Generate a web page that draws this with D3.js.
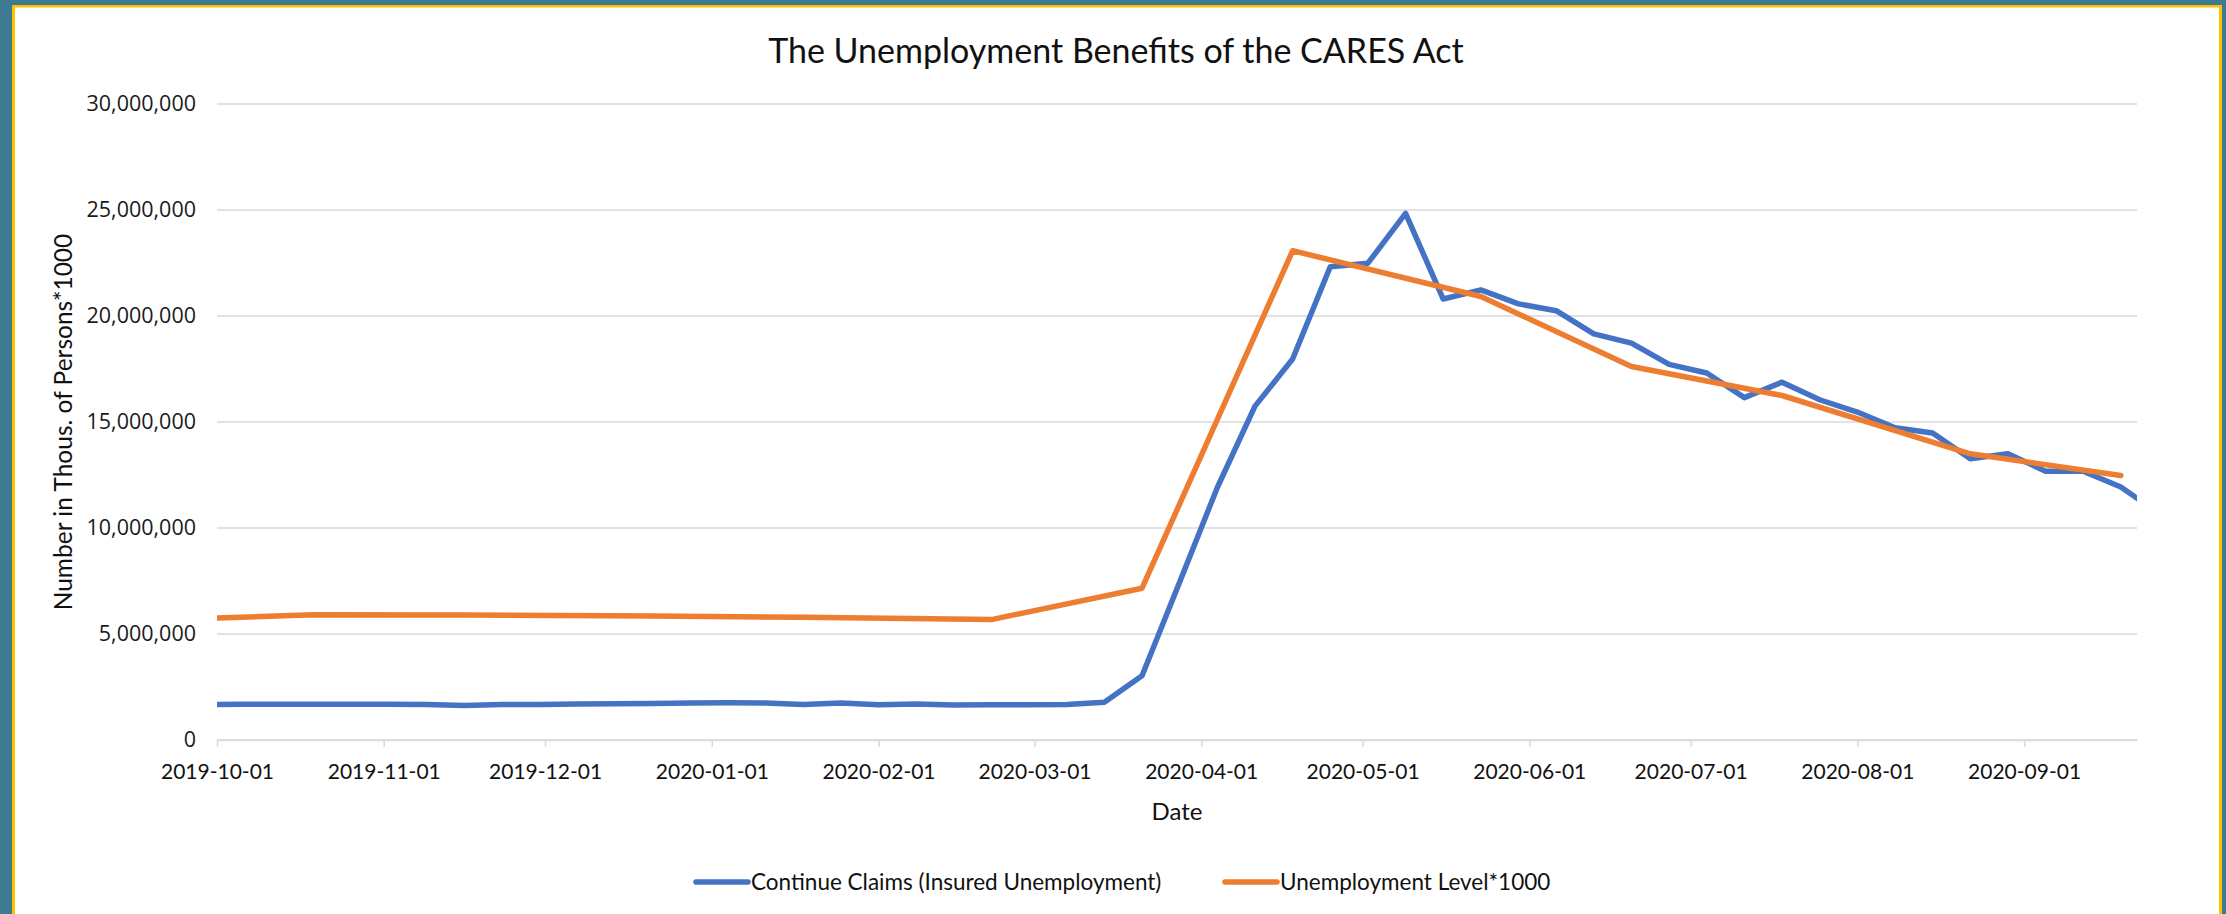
<!DOCTYPE html>
<html>
<head>
<meta charset="utf-8">
<script src="https://cdn.jsdelivr.net/npm/d3@7"></script>
<style>
  body { margin: 0; background: #3d7b93; }
  svg { display: block; }
</style>
</head>
<body>
<script>
// weekly continued claims (week ending Saturday)
var claimDates = [
  "2019-10-01", "2019-10-05", "2019-10-12", "2019-10-19", "2019-10-26",
  "2019-11-02", "2019-11-09", "2019-11-16", "2019-11-23", "2019-11-30",
  "2019-12-07", "2019-12-14", "2019-12-21", "2019-12-28",
  "2020-01-04", "2020-01-11", "2020-01-18", "2020-01-25",
  "2020-02-01", "2020-02-08", "2020-02-15", "2020-02-22", "2020-02-29",
  "2020-03-07", "2020-03-14", "2020-03-21", "2020-03-28",
  "2020-04-04", "2020-04-11", "2020-04-18", "2020-04-25",
  "2020-05-02", "2020-05-09", "2020-05-16", "2020-05-23", "2020-05-30",
  "2020-06-06", "2020-06-13", "2020-06-20", "2020-06-27",
  "2020-07-04", "2020-07-11", "2020-07-18", "2020-07-25",
  "2020-08-01", "2020-08-08", "2020-08-15", "2020-08-22", "2020-08-29",
  "2020-09-05", "2020-09-12", "2020-09-19", "2020-09-26"
]
var claimValues = [
  1680000, 1684000, 1682000, 1688000, 1689000,
  1690000, 1680000, 1630000, 1678000, 1680000,
  1700000, 1712000, 1725000, 1750000,
  1752000, 1745000, 1680000, 1740000,
  1660000, 1700000, 1650000, 1665000, 1665000,
  1670000, 1780000, 3030000, 7450000,
  11910000, 15750000, 17970000, 22320000,
  22490000, 24840000, 20800000, 21230000, 20570000,
  20250000, 19160000, 18720000, 17720000,
  17310000, 16150000, 16880000, 16050000,
  15470000, 14730000, 14480000, 13270000, 13500000,
  12680000, 12680000, 11930000, 10700000
]

// monthly unemployment level (thousands) scaled by 1000
var levelDates = [
  "2019-10-01", "2019-10-19", "2019-11-16", "2019-12-21", "2020-01-18",
  "2020-02-22", "2020-03-21", "2020-04-18", "2020-05-23", "2020-06-20",
  "2020-07-18", "2020-08-22", "2020-09-19"
]
var levelValues = [
  5750000, 5910000, 5900000, 5850000, 5790000,
  5680000, 7160000, 23080000, 20920000, 17620000,
  16250000, 13500000, 12480000
]

var monthTicks = [
  "2019-10-01", "2019-11-01", "2019-12-01", "2020-01-01", "2020-02-01", "2020-03-01",
  "2020-04-01", "2020-05-01", "2020-06-01", "2020-07-01", "2020-08-01", "2020-09-01"
]
var yTicks = [0, 5000000, 10000000, 15000000, 20000000, 25000000, 30000000]

var seriesNames = ["Continue Claims (Insured Unemployment)", "Unemployment Level*1000"]
var seriesColors = ["#4472c4", "#ed7d31"]

var width = 2226
var height = 914
var margin = { top: 104, bottom: 174, left: 217, right: 89 }

var parseDate = d3.utcParse("%Y-%m-%d")
var fmtDate = d3.utcFormat("%Y-%m-%d")

var claims = claimDates.map(function(d, i) { return { date: parseDate(d), value: claimValues[i] } })
var level = levelDates.map(function(d, i) { return { date: parseDate(d), value: levelValues[i] } })

var escalaX = d3.scaleUtc()
  .domain([parseDate("2019-10-01"), parseDate("2020-09-22")])
  .range([margin.left, width - margin.right])

var escalaY = d3.scaleLinear()
  .domain([0, 30000000])
  .range([height - margin.bottom, margin.top])

var svg = d3.select("body")
  .append("svg")
  .attr("width", width)
  .attr("height", height)

// frame: teal backdrop, thin gold border, white chart area
svg.append("rect")
  .attr("width", width).attr("height", height)
  .attr("fill", "#3d7b93")
svg.append("rect")
  .attr("x", 12).attr("y", 5)
  .attr("width", 2210).attr("height", height)
  .attr("fill", "#ffc000")
svg.append("rect")
  .attr("x", 15).attr("y", 7.5)
  .attr("width", 2204).attr("height", height)
  .attr("fill", "#ffffff")

// horizontal gridlines
svg.append("g")
  .selectAll("line")
  .data(yTicks)
  .enter()
  .append("line")
    .attr("x1", margin.left)
    .attr("x2", width - margin.right)
    .attr("y1", d => escalaY(d))
    .attr("y2", d => escalaY(d))
    .attr("stroke", "#d9d9d9")
    .attr("stroke-width", 1.5)

// y axis labels
var ejeY = d3.axisLeft(escalaY)
  .tickValues(yTicks)
  .tickFormat(d3.format(","))
  .tickSize(0)
  .tickPadding(21)
svg.append("g")
  .attr("transform", "translate(" + margin.left + ",0)")
  .call(ejeY)
  .call(g => g.select(".domain").remove())
  .selectAll("text")
    .attr("font-family", "'Open Sans', sans-serif")
    .attr("font-size", 21.5)
    .attr("fill", "#1a1a1a")

// x axis
var ejeX = d3.axisBottom(escalaX)
  .tickValues(monthTicks.map(parseDate))
  .tickFormat(fmtDate)
  .tickSizeInner(7)
  .tickSizeOuter(0)
  .tickPadding(17)
var gx = svg.append("g")
  .attr("transform", "translate(0," + escalaY(0) + ")")
  .call(ejeX)
gx.select(".domain").attr("stroke", "#d9d9d9").attr("stroke-width", 1.5)
gx.selectAll(".tick line").attr("stroke", "#d9d9d9").attr("stroke-width", 1.5)
gx.selectAll("text")
  .attr("font-family", "Lato, sans-serif")
  .attr("font-size", 21)
  .attr("fill", "#111")

// lines, clipped to the plot area
svg.append("clipPath")
  .attr("id", "plotClip")
  .append("rect")
    .attr("x", margin.left)
    .attr("y", 0)
    .attr("width", width - margin.left - margin.right)
    .attr("height", height)

var linea = d3.line()
  .x(d => escalaX(d.date))
  .y(d => escalaY(d.value))

var plot = svg.append("g").attr("clip-path", "url(#plotClip)")
plot.append("path")
  .datum(claims)
  .attr("fill", "none")
  .attr("stroke", seriesColors[0])
  .attr("stroke-width", 5.5)
  .attr("stroke-linejoin", "round")
  .attr("d", linea)
plot.append("path")
  .datum(level)
  .attr("fill", "none")
  .attr("stroke", seriesColors[1])
  .attr("stroke-width", 5.5)
  .attr("stroke-linejoin", "round")
  .attr("stroke-linecap", "round")
  .attr("d", linea)

// title and axis titles
svg.append("text")
  .attr("x", 1116).attr("y", 63)
  .attr("text-anchor", "middle")
  .attr("font-family", "Lato, sans-serif")
  .attr("font-size", 34)
  .attr("fill", "#111")
  .text("The Unemployment Benefits of the CARES Act")

svg.append("text")
  .attr("x", (margin.left + width - margin.right) / 2).attr("y", 820)
  .attr("text-anchor", "middle")
  .attr("font-family", "Lato, sans-serif")
  .attr("font-size", 24)
  .attr("fill", "#111")
  .text("Date")

svg.append("text")
  .attr("transform", "translate(72," + ((margin.top + height - margin.bottom) / 2) + ") rotate(-90)")
  .attr("text-anchor", "middle")
  .attr("font-family", "Lato, sans-serif")
  .attr("font-size", 24.5)
  .attr("fill", "#111")
  .text("Number in Thous. of Persons*1000")

// legend
var legendX = [696, 1225]
var legend = svg.append("g")
  .selectAll("g")
  .data(seriesNames)
  .enter()
  .append("g")
    .attr("transform", (d, i) => "translate(" + legendX[i] + ",882)")
legend.append("line")
  .attr("x1", 0).attr("x2", 52)
  .attr("stroke", (d, i) => seriesColors[i])
  .attr("stroke-width", 5.5)
  .attr("stroke-linecap", "round")
legend.append("text")
  .attr("x", 55).attr("y", 8)
  .attr("font-family", "Lato, sans-serif")
  .attr("font-size", 22.5)
  .attr("fill", "#111")
  .text(d => d)
</script>
</body>
</html>
